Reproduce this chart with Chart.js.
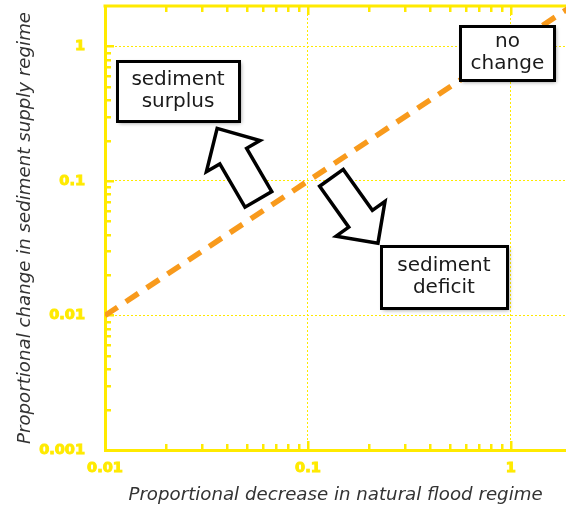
<!DOCTYPE html>
<html>
<head>
<meta charset="utf-8">
<script src="https://cdn.jsdelivr.net/npm/chart.js@4.4.1/dist/chart.umd.min.js"></script>
<style>
  html, body { margin: 0; padding: 0; background: #ffffff; }
  #wrap { width: 566px; height: 512px; }
</style>
</head>
<body>
<div id="wrap"><canvas id="c" width="566" height="512"></canvas></div>
<script>
// 1:1 line — sediment supply change equal to flood regime decrease
const lineX = [0.01, 0.1, 1, 2];
const lineY = [0.01, 0.1, 1, 2];

// Decade tick values and their labels
const xTickValues = [0.01, 0.1, 1];
const xTickLabels = ['0.01', '0.1', '1'];
const yTickValues = [0.001, 0.01, 0.1, 1];
const yTickLabels = ['0.001', '0.01', '0.1', '1'];

// Axis extents
const xRange = [0.01, 1.87];
const yRange = [0.001, 2];

const YELLOW = '#FFEA00';
const ORANGE = '#F89A1C';
const INK = '#1a1a1a';

// Callout boxes, centred on a data-space anchor (size in px)
const callouts = [
  { lines: ['sediment', 'surplus'], x: 0.0229, y: 0.47,   w: 122, h: 60 },
  { lines: ['no', 'change'],        x: 0.962,  y: 0.90,   w: 94,  h: 54 },
  { lines: ['sediment', 'deficit'], x: 0.468,  y: 0.0194, w: 126, h: 62 }
];

// Block arrows from tail to tip in data space (widths in px)
const arrows = [
  { from: [0.057, 0.073],   to: [0.0357, 0.246], shaft: 31, head: 62, headLen: 32 },
  { from: [0.1306, 0.1056], to: [0.2214, 0.0345], shaft: 29, head: 60, headLen: 30 }
];

function logSteps(lo, hi) {
  const out = [];
  for (let e = Math.floor(Math.log10(lo)); e <= Math.floor(Math.log10(hi)); e++) {
    for (let k = 1; k <= 9; k++) {
      const v = Number((k * Math.pow(10, e)).toPrecision(6));
      if (v > lo * 1.0001 && v < hi * 0.999) out.push({ v, major: k === 1 });
    }
  }
  return out;
}

const decor = {
  id: 'decor',
  beforeDatasetsDraw(chart) {
    const { ctx, chartArea: a, scales: { x, y } } = chart;
    ctx.save();
    ctx.strokeStyle = YELLOW;
    // top frame line
    ctx.lineWidth = 3;
    ctx.beginPath();
    ctx.moveTo(a.left - 1.5, a.top);
    ctx.lineTo(a.right, a.top);
    ctx.stroke();
    // inward tick marks
    ctx.lineWidth = 2.5;
    ctx.beginPath();
    logSteps(x.min, x.max).forEach(t => {
      const px = Math.round(x.getPixelForValue(t.v)) + 0.25;
      const len = t.major ? 9 : 6;
      ctx.moveTo(px, a.bottom); ctx.lineTo(px, a.bottom - len);
      ctx.moveTo(px, a.top); ctx.lineTo(px, a.top + len);
    });
    logSteps(y.min, y.max).forEach(t => {
      const py = Math.round(y.getPixelForValue(t.v)) + 0.25;
      const len = t.major ? 9 : 6;
      ctx.moveTo(a.left, py); ctx.lineTo(a.left + len, py);
    });
    ctx.stroke();
    ctx.restore();
  },
  afterDatasetsDraw(chart) {
    const { ctx, scales: { x, y } } = chart;
    ctx.save();
    // arrows
    arrows.forEach(ar => {
      const tx = x.getPixelForValue(ar.from[0]), ty = y.getPixelForValue(ar.from[1]);
      const px = x.getPixelForValue(ar.to[0]),   py = y.getPixelForValue(ar.to[1]);
      const L = Math.hypot(px - tx, py - ty);
      const ux = (px - tx) / L, uy = (py - ty) / L;
      const nx = -uy, ny = ux;
      const bx = px - ux * ar.headLen, by = py - uy * ar.headLen;
      const s = ar.shaft / 2, h = ar.head / 2;
      ctx.beginPath();
      ctx.moveTo(tx + nx * s, ty + ny * s);
      ctx.lineTo(bx + nx * s, by + ny * s);
      ctx.lineTo(bx + nx * h, by + ny * h);
      ctx.lineTo(px, py);
      ctx.lineTo(bx - nx * h, by - ny * h);
      ctx.lineTo(bx - nx * s, by - ny * s);
      ctx.lineTo(tx - nx * s, ty - ny * s);
      ctx.closePath();
      ctx.fillStyle = '#ffffff';
      ctx.fill();
      ctx.lineWidth = 3.5;
      ctx.lineJoin = 'miter';
      ctx.strokeStyle = '#000000';
      ctx.stroke();
    });
    // callout boxes
    callouts.forEach(c => {
      const cx = x.getPixelForValue(c.x), cy = y.getPixelForValue(c.y);
      const l = Math.round(cx - c.w / 2), t = Math.round(cy - c.h / 2);
      ctx.save();
      ctx.shadowColor = 'rgba(0,0,0,0.45)';
      ctx.shadowBlur = 4;
      ctx.shadowOffsetX = 2;
      ctx.shadowOffsetY = 2;
      ctx.fillStyle = '#ffffff';
      ctx.fillRect(l, t, c.w, c.h);
      ctx.restore();
      ctx.lineWidth = 3;
      ctx.strokeStyle = '#000000';
      ctx.strokeRect(l + 0.5, t + 0.5, c.w, c.h);
      ctx.fillStyle = INK;
      ctx.font = '20px "DejaVu Sans"';
      ctx.textAlign = 'center';
      ctx.textBaseline = 'alphabetic';
      const step = 22;
      c.lines.forEach((txt, i) => {
        const by = cy + 5.6 + (i - (c.lines.length - 1) / 2) * step;
        ctx.fillText(txt, cx, by);
      });
    });
    ctx.restore();
  }
};

const tickFont = { family: 'DejaVu Sans', weight: 'bold', size: 14.5 };
const titleFont = { family: 'DejaVu Sans', style: 'italic', size: 18.2 };

new Chart(document.getElementById('c'), {
  type: 'line',
  data: {
    datasets: [{
      data: lineX.map((v, i) => ({ x: v, y: lineY[i] })),
      borderColor: ORANGE,
      borderWidth: 5.5,
      borderDash: [15, 10],
      pointRadius: 0,
      fill: false,
      tension: 0
    }]
  },
  options: {
    responsive: false,
    animation: false,
    devicePixelRatio: 1,
    layout: { padding: { top: 6, right: 0, left: 0, bottom: 0 } },
    plugins: { legend: { display: false }, tooltip: { enabled: false } },
    scales: {
      x: {
        type: 'logarithmic',
        position: 'bottom',
        min: xRange[0],
        max: xRange[1],
        afterBuildTicks: s => { s.ticks = xTickValues.map(v => ({ value: v })); },
        afterFit: s => { s.height = 62; s.paddingLeft = 0; s.paddingRight = 0; },
        ticks: {
          callback: (v, i) => xTickLabels[i],
          color: YELLOW,
          textStrokeColor: YELLOW,
          textStrokeWidth: 1,
          font: tickFont,
          padding: 10,
          maxRotation: 0,
          autoSkip: false
        },
        grid: { color: YELLOW, lineWidth: 1, drawTicks: false },
        border: { color: YELLOW, width: 3, dash: [2, 2] },
        title: {
          display: true,
          text: 'Proportional decrease in natural flood regime',
          color: '#333333',
          font: titleFont,
          padding: { top: 0, bottom: 6 }
        }
      },
      y: {
        type: 'logarithmic',
        position: 'left',
        min: yRange[0],
        max: yRange[1],
        afterBuildTicks: s => { s.ticks = yTickValues.map(v => ({ value: v })); },
        afterFit: s => { s.width = 105; s.paddingTop = 0; s.paddingBottom = 0; },
        ticks: {
          callback: (v, i) => yTickLabels[i],
          color: YELLOW,
          textStrokeColor: YELLOW,
          textStrokeWidth: 1,
          font: tickFont,
          padding: 20,
          autoSkip: false
        },
        grid: { color: YELLOW, lineWidth: 1, drawTicks: false },
        border: { color: YELLOW, width: 3, dash: [2, 2] },
        title: {
          display: true,
          text: 'Proportional change in sediment supply regime',
          color: '#333333',
          font: titleFont,
          padding: { top: 14, bottom: 0 }
        }
      }
    }
  },
  plugins: [decor]
});
</script>
</body>
</html>
